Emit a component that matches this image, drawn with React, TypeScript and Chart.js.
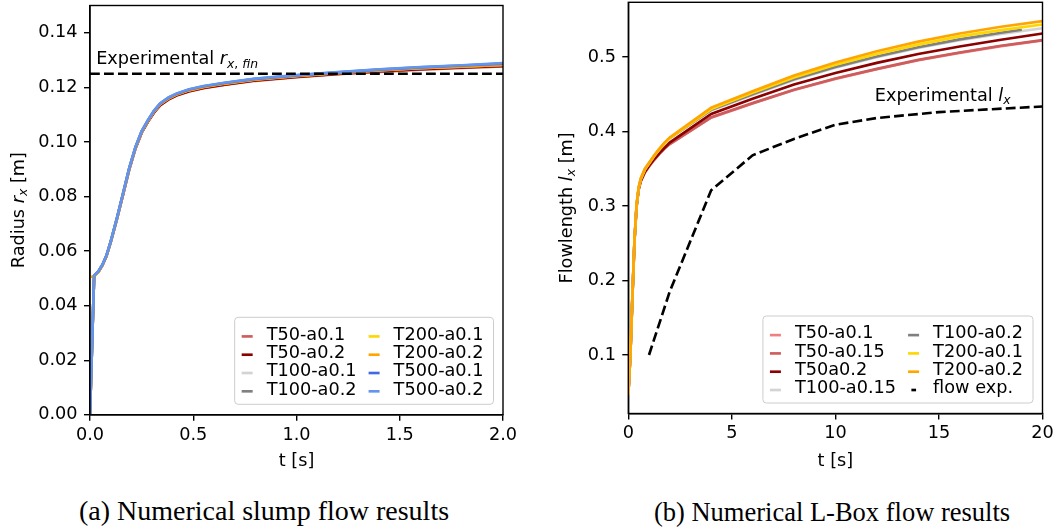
import React, { useEffect, useRef } from "react";
import { Chart, registerables } from "chart.js";

Chart.register(...registerables);

// ---------- (a) slump flow: radius r_x over time ----------
const SLUMP_T = [0, 0.02, 0.04, 0.06, 0.08, 0.1, 0.13, 0.16, 0.19, 0.22, 0.25, 0.28, 0.31, 0.34, 0.38, 0.42, 0.48, 0.55, 0.65, 0.8, 1.0, 1.2, 1.4, 1.6, 1.8, 2.0];
const SLUMP_T50_A01 = [0, 0.0508, 0.0523, 0.0548, 0.0582, 0.0631, 0.0715, 0.0806, 0.0898, 0.0975, 0.1033, 0.1073, 0.1107, 0.1134, 0.1155, 0.1170, 0.1185, 0.1197, 0.1209, 0.1224, 0.1237, 0.1248, 0.1257, 0.1265, 0.1271, 0.1277];
const SLUMP_T50_A02 = [0, 0.0508, 0.0523, 0.0548, 0.0582, 0.0632, 0.0716, 0.0807, 0.0899, 0.0976, 0.1034, 0.1074, 0.1108, 0.1135, 0.1156, 0.1171, 0.1186, 0.1198, 0.1210, 0.1225, 0.1238, 0.1249, 0.1259, 0.1267, 0.1273, 0.1279];
const SLUMP_T100_A01 = [0, 0.0509, 0.0524, 0.0549, 0.0584, 0.0633, 0.0718, 0.0810, 0.0902, 0.0979, 0.1037, 0.1077, 0.1112, 0.1139, 0.1160, 0.1175, 0.1190, 0.1202, 0.1214, 0.1229, 0.1242, 0.1253, 0.1263, 0.1270, 0.1276, 0.1282];
const SLUMP_T100_A02 = [0, 0.0509, 0.0524, 0.0549, 0.0584, 0.0633, 0.0718, 0.0810, 0.0902, 0.0979, 0.1037, 0.1077, 0.1112, 0.1139, 0.1160, 0.1175, 0.1190, 0.1202, 0.1214, 0.1229, 0.1242, 0.1253, 0.1263, 0.1271, 0.1277, 0.1283];
const SLUMP_T200_A01 = [0, 0.0509, 0.0524, 0.0549, 0.0584, 0.0634, 0.0719, 0.0811, 0.0903, 0.0980, 0.1038, 0.1078, 0.1113, 0.1140, 0.1161, 0.1176, 0.1191, 0.1203, 0.1215, 0.1230, 0.1243, 0.1254, 0.1264, 0.1272, 0.1278, 0.1285];
const SLUMP_T200_A02 = [0.0505, 0.0508, 0.0524, 0.0549, 0.0583, 0.0633, 0.0718, 0.0810, 0.0902, 0.0979, 0.1036, 0.1076, 0.1111, 0.1138, 0.1159, 0.1174, 0.1189, 0.1201, 0.1213, 0.1228, 0.1241, 0.1252, 0.1262, 0.1270, 0.1276, 0.1282];
const SLUMP_T500_A01 = [0, 0.0510, 0.0525, 0.0550, 0.0585, 0.0635, 0.0720, 0.0812, 0.0904, 0.0981, 0.1039, 0.1079, 0.1114, 0.1141, 0.1162, 0.1177, 0.1192, 0.1204, 0.1216, 0.1231, 0.1244, 0.1255, 0.1265, 0.1273, 0.1280, 0.1287];
const SLUMP_T500_A02 = [0, 0.0510, 0.0525, 0.0550, 0.0585, 0.0635, 0.0720, 0.0812, 0.0905, 0.0982, 0.1040, 0.1080, 0.1115, 0.1142, 0.1163, 0.1178, 0.1193, 0.1205, 0.1217, 0.1232, 0.1245, 0.1256, 0.1266, 0.1274, 0.1281, 0.1289];
const SLUMP_SERIES = [SLUMP_T50_A01, SLUMP_T50_A02, SLUMP_T100_A01, SLUMP_T100_A02, SLUMP_T200_A01, SLUMP_T200_A02, SLUMP_T500_A01, SLUMP_T500_A02];
const SLUMP_LABELS = ["T50-a0.1", "T50-a0.2", "T100-a0.1", "T100-a0.2", "T200-a0.1", "T200-a0.2", "T500-a0.1", "T500-a0.2"];
const SLUMP_COLORS = ["#cd5c5c", "#8b0000", "#d3d3d3", "#808080", "#ffd700", "#ffa500", "#4169e1", "#6495ed"];
const EXP_RADIUS_FIN = 0.125;
const SLUMP_X_RANGE = [0, 2];
const SLUMP_Y_RANGE = [0, 0.15];
const SLUMP_X_TICKS = [0, 0.5, 1, 1.5, 2];
const SLUMP_X_TICK_LABELS = ["0.0", "0.5", "1.0", "1.5", "2.0"];
const SLUMP_Y_TICKS = [0, 0.02, 0.04, 0.06, 0.08, 0.1, 0.12, 0.14];
const SLUMP_Y_TICK_LABELS = ["0.00", "0.02", "0.04", "0.06", "0.08", "0.10", "0.12", "0.14"];
const SLUMP_NOTE_AT = [0.03, 0.1285];

// ---------- (b) L-Box: flow length l_x over time ----------
const LBOX_T = [0, 0.1, 0.2, 0.3, 0.4, 0.5, 0.6, 0.8, 1.0, 1.25, 1.5, 1.75, 2, 4, 6, 8, 10, 12, 14, 16, 18, 20];
const LBOX_T_T100_A02 = [0, 0.1, 0.2, 0.3, 0.4, 0.5, 0.6, 0.8, 1.0, 1.25, 1.5, 1.75, 2, 4, 6, 8, 10, 12, 14, 16, 18, 19];
const LBOX_T50_A01 = [0.046, 0.100, 0.179, 0.254, 0.299, 0.322, 0.333, 0.345, 0.353, 0.362, 0.370, 0.377, 0.383, 0.4185, 0.4375, 0.4555, 0.4705, 0.4835, 0.4955, 0.5055, 0.5145, 0.522];
const LBOX_T50_A015 = [0.046, 0.100, 0.179, 0.254, 0.299, 0.322, 0.333, 0.345, 0.353, 0.362, 0.370, 0.377, 0.383, 0.419, 0.438, 0.456, 0.471, 0.484, 0.496, 0.506, 0.515, 0.5225];
const LBOX_T50_A02 = [0.046, 0.100, 0.179, 0.254, 0.300, 0.323, 0.334, 0.346, 0.354, 0.363, 0.371, 0.378, 0.385, 0.4235, 0.444, 0.463, 0.4785, 0.492, 0.504, 0.514, 0.523, 0.5315];
const LBOX_T100_A015 = [0.046, 0.100, 0.180, 0.255, 0.301, 0.324, 0.336, 0.349, 0.357, 0.367, 0.376, 0.384, 0.391, 0.428, 0.449, 0.469, 0.4855, 0.4995, 0.512, 0.5225, 0.531, 0.5385];
const LBOX_T100_A02 = [0.046, 0.100, 0.180, 0.255, 0.301, 0.324, 0.336, 0.349, 0.357, 0.367, 0.376, 0.384, 0.391, 0.429, 0.450, 0.470, 0.4865, 0.5005, 0.513, 0.5235, 0.5325, 0.5365];
const LBOX_T200_A01 = [0.046, 0.100, 0.180, 0.255, 0.301, 0.324, 0.336, 0.349, 0.357, 0.367, 0.376, 0.384, 0.391, 0.430, 0.452, 0.4725, 0.4895, 0.504, 0.5165, 0.5275, 0.536, 0.5435];
const LBOX_T200_A02 = [0.046, 0.100, 0.181, 0.256, 0.302, 0.325, 0.337, 0.350, 0.358, 0.368, 0.377, 0.385, 0.392, 0.432, 0.454, 0.475, 0.4925, 0.5075, 0.5205, 0.5315, 0.5405, 0.548];
const LBOX_EXP_T = [1, 2, 4, 6, 8, 10, 12, 15, 20];
const LBOX_EXP = [0.100, 0.185, 0.321, 0.368, 0.390, 0.409, 0.418, 0.426, 0.4335];
const LBOX_SERIES = [LBOX_T50_A01, LBOX_T50_A015, LBOX_T50_A02, LBOX_T100_A015, LBOX_T100_A02, LBOX_T200_A01, LBOX_T200_A02];
const LBOX_SERIES_T = [LBOX_T, LBOX_T, LBOX_T, LBOX_T, LBOX_T_T100_A02, LBOX_T, LBOX_T];
const LBOX_LABELS = ["T50-a0.1", "T50-a0.15", "T50a0.2", "T100-a0.15", "T100-a0.2", "T200-a0.1", "T200-a0.2"];
const LBOX_COLORS = ["#f08080", "#cd5c5c", "#8b0000", "#d3d3d3", "#808080", "#ffd700", "#ffa500"];
const LBOX_EXP_LABEL = "flow exp.";
const LBOX_X_RANGE = [0, 20];
const LBOX_Y_RANGE = [0.0215, 0.5733];
const LBOX_X_TICKS = [0, 5, 10, 15, 20];
const LBOX_X_TICK_LABELS = ["0", "5", "10", "15", "20"];
const LBOX_Y_TICKS = [0.1, 0.2, 0.3, 0.4, 0.5];
const LBOX_Y_TICK_LABELS = ["0.1", "0.2", "0.3", "0.4", "0.5"];
const LBOX_NOTE_AT = [11.9, 0.441];

// ---------- shared styling ----------
const FONT = '"DejaVu Sans", sans-serif';
const FS = 17.7;
const LW = 2.65;
const DASH = [9.8, 4.2];
const AXIS_LW = 1.4;

type Part = { t: string; it?: boolean; sub?: boolean };

function partFont(p: Part) {
  const size = p.sub ? FS * 0.7 : FS;
  return `${p.it ? "italic " : ""}${size}px ${FONT}`;
}

function measureParts(ctx: CanvasRenderingContext2D, parts: Part[]) {
  let w = 0;
  for (const p of parts) {
    ctx.font = partFont(p);
    w += ctx.measureText(p.t).width;
  }
  return w;
}

function drawParts(ctx: CanvasRenderingContext2D, parts: Part[], x: number, y: number) {
  let cx = x;
  for (const p of parts) {
    ctx.font = partFont(p);
    ctx.fillText(p.t, cx, y + (p.sub ? FS * 0.2 : 0));
    cx += ctx.measureText(p.t).width;
  }
}

function drawLegend(chart: any) {
  const ctx: CanvasRenderingContext2D = chart.ctx;
  const items = chart.data.datasets
    .filter((d: any) => d.label)
    .map((d: any) => ({ label: d.label as string, color: d.borderColor as string, dashed: !!d.borderDash }));
  const rows = Math.ceil(items.length / 2);
  const cols = [items.slice(0, rows), items.slice(rows)];
  ctx.save();
  ctx.font = `${FS}px ${FONT}`;
  const widths = cols.map((c: any[]) => Math.max(...c.map((i) => ctx.measureText(i.label).width)));
  const PAD_L = 7, HANDLE = 11, GAP = 14, COLGAP = 12, PAD_R = 10, ROW = 18.3, H = 87;
  const W = PAD_L + HANDLE + GAP + widths[0] + COLGAP + HANDLE + GAP + widths[1] + PAD_R;
  const right = chart.chartArea.right - 9.5;
  const bottom = chart.chartArea.bottom - 10.5;
  const left = right - W;
  const top = bottom - H;
  ctx.beginPath();
  (ctx as any).roundRect(left, top, W, H, 3.5);
  ctx.fillStyle = "rgba(255,255,255,0.8)";
  ctx.fill();
  ctx.strokeStyle = "#cccccc";
  ctx.lineWidth = 1;
  ctx.stroke();
  let x0 = left + PAD_L;
  cols.forEach((col: any[], ci: number) => {
    col.forEach((it, r) => {
      const base = bottom - 9.8 - (rows - 1 - r) * ROW;
      const hy = base - 0.18 * FS;
      ctx.beginPath();
      ctx.strokeStyle = it.color;
      ctx.lineWidth = LW;
      if (it.dashed) {
        ctx.moveTo(x0 + 3.3, hy);
        ctx.lineTo(x0 + 8, hy);
      } else {
        ctx.moveTo(x0, hy);
        ctx.lineTo(x0 + HANDLE, hy);
      }
      ctx.stroke();
      ctx.fillStyle = "#000";
      ctx.font = `${FS}px ${FONT}`;
      ctx.textAlign = "left";
      ctx.textBaseline = "alphabetic";
      ctx.fillText(it.label, x0 + HANDLE + GAP, base);
    });
    x0 += HANDLE + GAP + widths[ci] + COLGAP;
  });
  ctx.restore();
}

type Deco = {
  yTitle: Part[];
  yTitleX: number;
  xTitle: Part[];
  xTitleBase: number;
  note: Part[];
  noteAt: number[];
};

function decoPlugin(deco: Deco) {
  return {
    id: "deco",
    afterDatasetsDraw(chart: any) {
      const ctx: CanvasRenderingContext2D = chart.ctx;
      const a = chart.chartArea;
      ctx.save();
      ctx.strokeStyle = "#000";
      ctx.lineWidth = AXIS_LW;
      ctx.strokeRect(a.left, a.top, a.right - a.left, a.bottom - a.top);
      ctx.restore();
    },
    afterDraw(chart: any) {
      const ctx: CanvasRenderingContext2D = chart.ctx;
      const a = chart.chartArea;
      ctx.save();
      ctx.fillStyle = "#000";
      ctx.textAlign = "left";
      ctx.textBaseline = "alphabetic";
      // annotation in data coordinates
      const nx = chart.scales.x.getPixelForValue(deco.noteAt[0]);
      const ny = chart.scales.y.getPixelForValue(deco.noteAt[1]);
      drawParts(ctx, deco.note, nx, ny);
      // x title
      const xw = measureParts(ctx, deco.xTitle);
      drawParts(ctx, deco.xTitle, (a.left + a.right) / 2 - xw / 2, deco.xTitleBase);
      // y title (rotated)
      const yw = measureParts(ctx, deco.yTitle);
      ctx.translate(deco.yTitleX, (a.top + a.bottom) / 2);
      ctx.rotate(-Math.PI / 2);
      drawParts(ctx, deco.yTitle, -yw / 2, 0.315 * FS);
      ctx.restore();
      drawLegend(chart);
    },
  };
}

function axis(kind: "x" | "y", range: number[], ticks: number[], labels: string[], size: number, pad: number) {
  return {
    type: "linear",
    min: range[0],
    max: range[1],
    afterBuildTicks: (s: any) => {
      s.ticks = ticks.map((v) => ({ value: v }));
    },
    afterFit: (s: any) => {
      if (kind === "x") s.height = size;
      else s.width = size;
      s.paddingLeft = 0;
      s.paddingRight = 0;
      s.paddingTop = 0;
      s.paddingBottom = 0;
    },
    ticks: {
      callback: (_v: any, i: number) => labels[i],
      font: { family: FONT, size: FS },
      color: "#000",
      padding: pad,
      maxRotation: 0,
      minRotation: 0,
      autoSkip: false,
    },
    grid: {
      display: true,
      drawOnChartArea: false,
      drawTicks: true,
      tickLength: 6,
      tickWidth: AXIS_LW,
      color: "#000",
      lineWidth: AXIS_LW,
    },
    border: { display: true, color: "#000", width: AXIS_LW },
  };
}

function line(label: string, xs: number[], ys: number[], color: string, order: number, dashed = false) {
  return {
    label,
    data: xs.map((x, i) => ({ x, y: ys[i] })),
    borderColor: color,
    backgroundColor: color,
    borderWidth: LW,
    borderDash: dashed ? DASH : undefined,
    pointRadius: 0,
    tension: 0,
    fill: false,
    order,
  };
}

function baseOptions(padding: any, scales: any) {
  return {
    responsive: false,
    maintainAspectRatio: false,
    devicePixelRatio: 1,
    animation: false,
    events: [],
    layout: { padding },
    plugins: { legend: { display: false }, tooltip: { enabled: false } },
    scales,
  };
}

function slumpConfig(): any {
  const n = SLUMP_SERIES.length;
  const datasets: any[] = SLUMP_SERIES.map((ys, i) => line(SLUMP_LABELS[i], SLUMP_T, ys, SLUMP_COLORS[i], n + 1 - i));
  datasets.push(line("", [SLUMP_X_RANGE[0], SLUMP_X_RANGE[1]], [EXP_RADIUS_FIN, EXP_RADIUS_FIN], "#000", 0, true));
  return {
    type: "line",
    data: { datasets },
    options: baseOptions(
      { left: 0, top: 5.5, right: 27, bottom: 0 },
      {
        x: axis("x", SLUMP_X_RANGE, SLUMP_X_TICKS, SLUMP_X_TICK_LABELS, 65.2, 3.5),
        y: axis("y", SLUMP_Y_RANGE, SLUMP_Y_TICKS, SLUMP_Y_TICK_LABELS, 90, 6.4),
      }
    ),
    plugins: [
      decoPlugin({
        yTitle: [{ t: "Radius " }, { t: "r", it: true }, { t: "x", it: true, sub: true }, { t: " [m]" }],
        yTitleX: 18,
        xTitle: [{ t: "t [s]" }],
        xTitleBase: 466,
        note: [{ t: "Experimental " }, { t: "r", it: true }, { t: "x", it: true, sub: true }, { t: ", ", sub: true }, { t: "fin", it: true, sub: true }],
        noteAt: SLUMP_NOTE_AT,
      }),
    ],
  };
}

function lboxConfig(): any {
  const n = LBOX_SERIES.length;
  const datasets: any[] = LBOX_SERIES.map((ys, i) => line(LBOX_LABELS[i], LBOX_SERIES_T[i], ys, LBOX_COLORS[i], n + 1 - i));
  datasets.push(line(LBOX_EXP_LABEL, LBOX_EXP_T, LBOX_EXP, "#000", 0, true));
  return {
    type: "line",
    data: { datasets },
    options: baseOptions(
      { left: 0, top: 2.3, right: 16.5, bottom: 0 },
      {
        x: axis("x", LBOX_X_RANGE, LBOX_X_TICKS, LBOX_X_TICK_LABELS, 66.5, 3.5),
        y: axis("y", LBOX_Y_RANGE, LBOX_Y_TICKS, LBOX_Y_TICK_LABELS, 98.3, 6.4),
      }
    ),
    plugins: [
      decoPlugin({
        yTitle: [{ t: "Flowlength " }, { t: "l", it: true }, { t: "x", it: true, sub: true }, { t: " [m]" }],
        yTitleX: 36,
        xTitle: [{ t: "t [s]" }],
        xTitleBase: 466,
        note: [{ t: "Experimental " }, { t: "l", it: true }, { t: "x", it: true, sub: true }],
        noteAt: LBOX_NOTE_AT,
      }),
    ],
  };
}

const captionStyle = (center: number, size: number): React.CSSProperties => ({
  position: "absolute",
  left: center - 260,
  width: 520,
  top: 520.7 - 0.8375 * size,
  textAlign: "center",
  fontFamily: '"Liberation Serif", serif',
  fontSize: size,
  lineHeight: `${size}px`,
  color: "#000",
  whiteSpace: "nowrap",
});

export default function App() {
  const leftRef = useRef<HTMLCanvasElement>(null);
  const rightRef = useRef<HTMLCanvasElement>(null);

  useEffect(() => {
    const a = new Chart(leftRef.current as HTMLCanvasElement, slumpConfig());
    const b = new Chart(rightRef.current as HTMLCanvasElement, lboxConfig());
    return () => {
      a.destroy();
      b.destroy();
    };
  }, []);

  return (
    <div style={{ position: "absolute", left: 0, top: 0, width: 1059, height: 531, background: "#fff", overflow: "hidden" }}>
      <canvas ref={leftRef} width={530} height={480} style={{ position: "absolute", left: 0, top: 0, width: 530, height: 480 }} />
      <canvas ref={rightRef} width={529} height={480} style={{ position: "absolute", left: 530, top: 0, width: 529, height: 480 }} />
      <div style={captionStyle(264, 28)}>(a) Numerical slump flow results</div>
      <div style={captionStyle(832, 26.5)}>(b) Numerical L-Box flow results</div>
    </div>
  );
}
